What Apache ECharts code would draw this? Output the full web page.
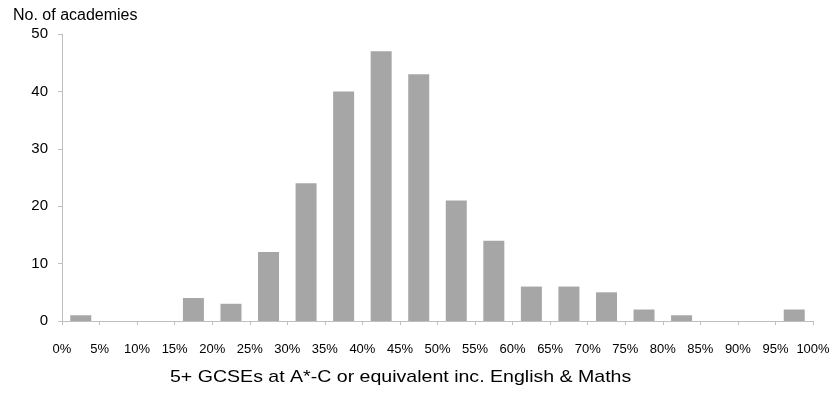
<!DOCTYPE html>
<html>
<head>
<meta charset="utf-8">
<script src="https://cdn.jsdelivr.net/npm/echarts@6/dist/echarts.min.js"></script>
<style>html,body{margin:0;padding:0;background:#fff;}#c{width:834px;height:395px;}</style>
</head>
<body>
<div id="c"></div>
<script>
const binStarts = [0,5,10,15,20,25,30,35,40,45,50,55,60,65,70,75,80,85,90,95];
const binWidth = 5;
const counts = [1,0,0,4,3,12,24,40,47,43,21,14,6,6,5,2,1,0,0,2];
const yTitle = 'No. of academies';
const xTitle = '5+ GCSEs at A*-C or equivalent inc. English & Maths';

const chart = echarts.init(document.getElementById('c'));
const font = 'Liberation Sans, Arial, sans-serif';
chart.setOption({
  animation: false,
  grid: {left: 62, right: 21, top: 34, bottom: 74},
  title: [
    {text: yTitle, left: 8, top: 3, textStyle: {fontFamily: font, fontSize: 16, fontWeight: 'normal', color: '#000'}}
  ],
  graphic: [
    {type: 'text', x: 170, y: 369, scaleX: 1.15, scaleY: 1,
     style: {text: xTitle, font: '17px Liberation Sans, Arial, sans-serif', fill: '#000', textVerticalAlign: 'top', textAlign: 'left'}}
  ],
  xAxis: {
    type: 'value', min: 0, max: 100, interval: 5,
    axisLine: {show: true, lineStyle: {color: '#bfbfbf', width: 1}},
    axisTick: {show: true, length: 4, lineStyle: {color: '#bfbfbf'}},
    splitLine: {show: false},
    axisLabel: {formatter: '{value}%', color: '#000', fontFamily: font, fontSize: 13, margin: 22}
  },
  yAxis: {
    type: 'value', min: 0, max: 50, interval: 10,
    axisLine: {show: true, lineStyle: {color: '#bfbfbf', width: 1}},
    axisTick: {show: true, length: 4, lineStyle: {color: '#bfbfbf'}},
    splitLine: {show: false},
    axisLabel: {color: '#000', fontFamily: font, fontSize: 15, margin: 14}
  },
  series: [{
    type: 'bar',
    barWidth: 21,
    itemStyle: {color: '#a6a6a6'},
    data: binStarts.map((s, i) => [s + binWidth / 2, counts[i]])
  }]
});
</script>
</body>
</html>
